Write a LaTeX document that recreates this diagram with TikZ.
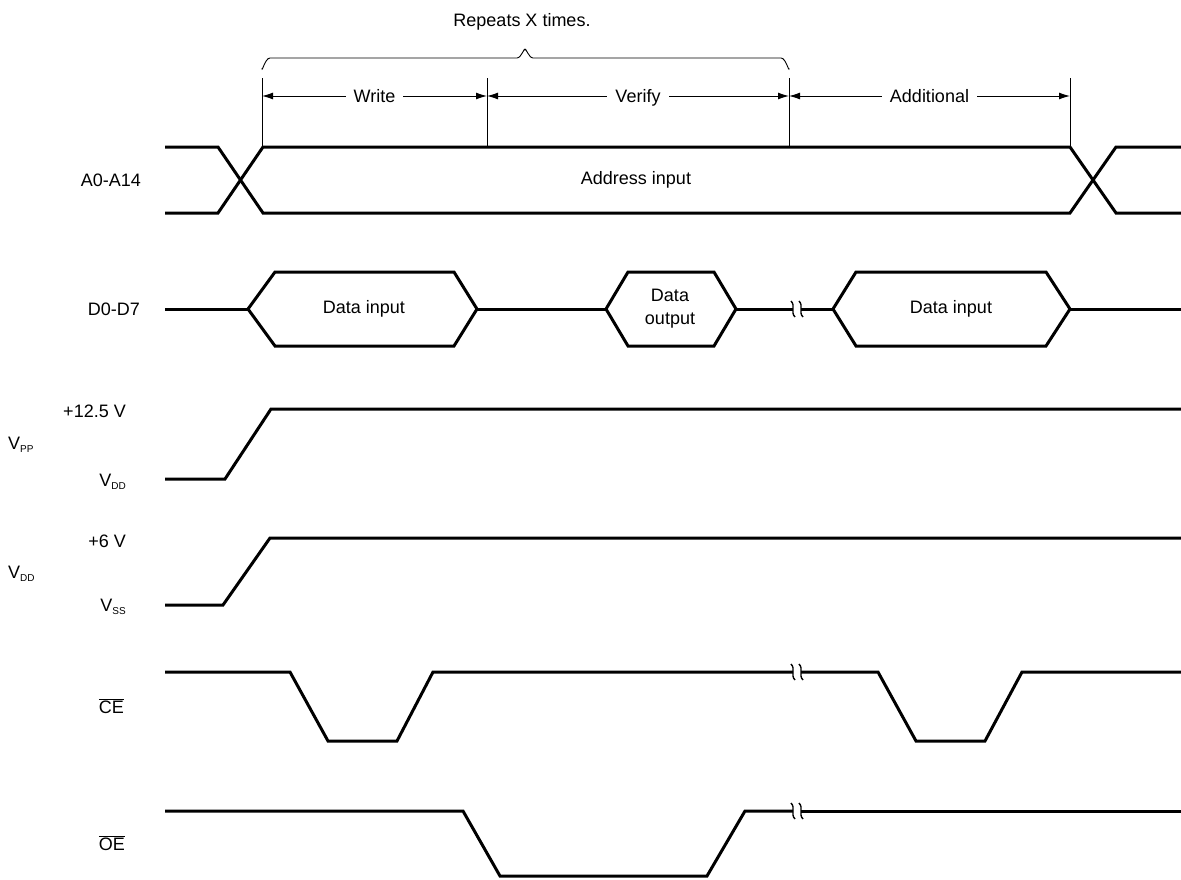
\documentclass[tikz,border=0pt]{standalone}
\usepackage{fontspec}
\setmainfont{Liberation Sans}
\usetikzlibrary{arrows.meta}
\begin{document}
\begin{tikzpicture}[x=1pt,y=-1pt,
  sig/.style={line width=3pt, line join=miter, line cap=butt},
  thinl/.style={line width=0.9pt},
  dimarr/.style={line width=1pt, {Latex[length=11pt,width=7pt]}-{Latex[length=11pt,width=7pt]}},
  txt/.style={font=\fontsize{18}{20}\selectfont, inner sep=0pt},
  gap/.style={txt, fill=white, inner xsep=8pt, inner ysep=3pt, text height=13pt, text depth=0pt},
  brkmark/.pic={\draw[line width=1.4pt] (-2,-8) .. controls (3,-3) and (-3,3) .. (2,8);}]
\useasboundingbox (0,0) rectangle (1181,879);
\newcommand\subsc[1]{\raisebox{-0.35ex}{\fontsize{10}{11}\selectfont #1}}
% top annotations
\node[txt] (rep) at (522,22) {Repeats X times.};
\draw[thinl] (262,68) to[out=-90,in=180] (270,58) -- (517,58) to[out=0,in=90] (525,50)
  to[out=90,in=180] (533,58) -- (781,58) to[out=0,in=-90] (789,68);
\coordinate (t1a) at (262,78); \coordinate (t1b) at (262,146);
\coordinate (t2a) at (487,78); \coordinate (t2b) at (487,146);
\coordinate (t3a) at (789,78); \coordinate (t3b) at (789,146);
\coordinate (t4a) at (1070,78); \coordinate (t4b) at (1070,146);
\draw[thinl] (t1a) -- (t1b); \draw[thinl] (t2a) -- (t2b);
\draw[thinl] (t3a) -- (t3b); \draw[thinl] (t4a) -- (t4b);
\coordinate (w1) at (262,96); \coordinate (w2) at (487,96);
\coordinate (v2) at (789,96); \coordinate (a2) at (1070,96);
\draw[dimarr] (w1) -- (w2) node[gap,midway] (lw) {Write};
\draw[dimarr] (w2) -- (v2) node[gap,midway] (lv) {Verify};
\draw[dimarr] (v2) -- (a2) node[gap,midway] (la) {Additional};
% labels
\node[txt,anchor=east] (lA) at (141,180) {A0-A14};
\node[txt,anchor=east] (lD) at (140,309) {D0-D7};
\node[txt,anchor=east] (lp1) at (126,411) {+12.5 V};
\node[txt,anchor=west] (lpp) at (8,445) {V\subsc{PP}};
\node[txt,anchor=east] (lp2) at (126,482) {V\subsc{DD}};
\node[txt,anchor=east] (ld1) at (126,541) {+6 V};
\node[txt,anchor=west] (ldd) at (8,574) {V\subsc{DD}};
\node[txt,anchor=east] (ld2) at (126,607) {V\subsc{SS}};
\node[txt,anchor=east] (lce) at (124,706) {$\overline{\hbox{CE}}$};
\node[txt,anchor=east] (loe) at (125,843) {$\overline{\hbox{OE}}$};
% A0-A14
\draw[sig] (165,147) -- (218,147) -- (263,213) -- (1070,213) -- (1116,147) -- (1181,147);
\draw[sig] (165,213) -- (218,213) -- (263,147) -- (1070,147) -- (1116,213) -- (1181,213);
\node[txt] (addr) at (636,180) {Address input};
% D0-D7
\draw[sig] (165,309) -- (248,309);
\draw[sig] (248,309) -- (275,272) -- (454,272) -- (477,309) -- (454,346) -- (275,346) -- cycle;
\draw[sig] (477,309) -- (606,309);
\draw[sig] (606,309) -- (628,272) -- (714,272) -- (736,309) -- (714,346) -- (628,346) -- cycle;
\draw[sig] (736,309) -- (793,309);
\draw[sig] (801,309) -- (833,309);
\draw[sig] (833,309) -- (856,272) -- (1046,272) -- (1070,309) -- (1046,346) -- (856,346) -- cycle;
\draw[sig] (1070,309) -- (1181,309);
\pic at (793,309) {brkmark}; \pic at (801,309) {brkmark};
\node[txt] (din1) at (364,309) {Data input};
\node[txt,align=center,font=\fontsize{18}{23}\selectfont] (dout) at (670,309) {Data\\output};
\node[txt] (din2) at (951,309) {Data input};
% VPP
\draw[sig] (165,479) -- (225,479) -- (271,409) -- (1181,409);
% VDD
\draw[sig] (165,605) -- (223,605) -- (270,538) -- (1181,538);
% CE
\draw[sig] (165,672) -- (290,672) -- (328,741) -- (397,741) -- (433,672) -- (793,672);
\draw[sig] (801,672) -- (878,672) -- (916,741) -- (985,741) -- (1022,672) -- (1181,672);
\pic at (793,672) {brkmark}; \pic at (801,672) {brkmark};
% OE
\draw[sig] (165,811) -- (463,811) -- (500,876) -- (707,876) -- (745,811) -- (793,811);
\draw[sig] (801,811) -- (1181,811);
\pic at (793,811) {brkmark}; \pic at (801,811) {brkmark};
\end{tikzpicture}
\end{document}
